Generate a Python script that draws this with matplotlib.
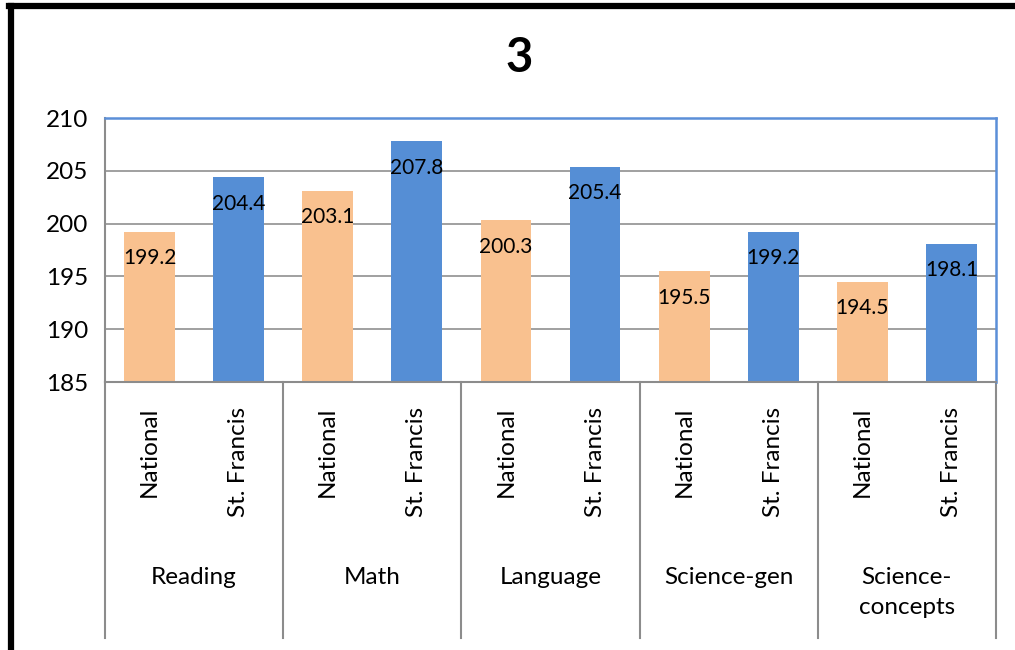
import matplotlib.pyplot as plt
from matplotlib.lines import Line2D

subjects = ['Reading', 'Math', 'Language', 'Science-gen', 'Science-\nconcepts']
groups = ['National', 'St. Francis']
national = [199.2, 203.1, 200.3, 195.5, 194.5]
stfrancis = [204.4, 207.8, 205.4, 199.2, 198.1]
colors = ['#F9C18F', '#558ED5']

plt.rcParams['font.family'] = ['Lato', 'DejaVu Sans']

fig = plt.figure(figsize=(10.15, 6.5), dpi=100)
ax = fig.add_axes([105 / 1015, 1 - 382 / 650, 891 / 1015, 264 / 650])

n = len(subjects) * 2
x = list(range(n))
vals = []
cols = []
for i in range(len(subjects)):
    vals += [national[i], stfrancis[i]]
    cols += colors
bars = ax.bar(x, vals, width=0.57, color=cols, zorder=2)
for b, v in zip(bars, vals):
    ax.text(b.get_x() + b.get_width() / 2, v - 2.5, '%.1f' % v,
            ha='center', va='center', fontsize=15, color='black', zorder=3)

ax.set_xlim(-0.5, n - 0.5)
ax.set_ylim(185, 210)
ax.set_yticks(range(185, 211, 5))
ax.tick_params(axis='y', length=0, labelsize=17.5, pad=12)
ax.set_xticks([])
ax.yaxis.grid(True, color='#999999', linewidth=1.3, zorder=0)
for s in ['left', 'bottom']:
    ax.spines[s].set_color('#8c8c8c')
    ax.spines[s].set_linewidth(1.5)
for s in ['top', 'right']:
    ax.spines[s].set_color('#5B8FD8')
    ax.spines[s].set_linewidth(1.8)

tr = ax.get_xaxis_transform()
ybot = -(638 - 382) / 264
for k in range(len(subjects) + 1):
    ax.plot([2 * k - 0.5, 2 * k - 0.5], [0, ybot], color='#8c8c8c', lw=1.5,
            transform=tr, clip_on=False)
for i in range(n):
    ax.text(i, -(407 - 382) / 264, groups[i % 2], rotation=90, ha='center',
            va='top', fontsize=17.5, transform=tr)
for k, name in enumerate(subjects):
    ax.text(2 * k + 0.5, -(567 - 382) / 264, name, ha='center', va='top',
            fontsize=17.5, transform=tr, linespacing=1.5)

fig.text(519 / 1015, 1 - 58 / 650, '3', ha='center', va='center',
         fontsize=34, fontweight='bold')

# black frame on left and top
fig.add_artist(Line2D([11 / 1015, 11 / 1015], [0, 1 - 6 / 650], color='black',
                      lw=4.5, transform=fig.transFigure))
fig.add_artist(Line2D([9 / 1015, 1], [1 - 6 / 650, 1 - 6 / 650], color='black',
                      lw=4.5, transform=fig.transFigure))

fig.savefig('out.png', dpi=100)
